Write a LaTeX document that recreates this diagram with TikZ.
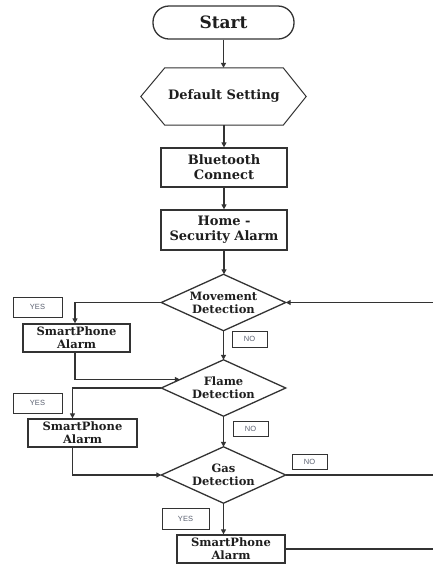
\documentclass[tikz,border=0pt]{standalone}
\usepackage{fontspec}
\setmainfont{DejaVu Serif}
\setsansfont{Liberation Sans}
\usetikzlibrary{calc,arrows.meta}

\definecolor{inkline}{HTML}{333333}
\definecolor{inktext}{HTML}{1E1E1E}
\definecolor{tagtext}{HTML}{5A6070}

\tikzset{
  base/.style={inner sep=0pt, align=center, text=inktext, font=\bfseries\fontsize{13}{15}\selectfont},
  procbox/.style={base, draw=inkline, line width=1.3pt, rectangle},
  alarmbox/.style={procbox, font=\bfseries\fontsize{11.5}{13}\selectfont, minimum height=28pt},
  decision/.style={base, font=\bfseries\fontsize{11.5}{13}\selectfont, minimum width=124pt, minimum height=56pt},
  tag/.style={draw=inkline, line width=1pt, inner sep=0pt, text=tagtext, font=\sffamily\fontsize{7.5}{8}\selectfont},
  flow/.style={draw=inkline, line width=1.3pt},
  arr/.style={flow, -{Triangle[length=5pt,width=5pt]}},
}

\begin{document}
\begin{tikzpicture}[x=1pt,y=-1pt]
\fill[white] (0,0) rectangle (433,566);
\useasboundingbox (0,0) rectangle (433,566);

% main column
\node[procbox, rounded corners=16pt, minimum width=141pt, minimum height=33pt,
      font=\bfseries\fontsize{17}{19}\selectfont] (start) at (223.5,22.5) {Start};
\node[base, minimum width=118pt, minimum height=57pt] (def) at (224,96.5) {Default Setting};
\draw[inkline, line width=1pt] ([xshift=-24pt]def.west) -- (def.north west) -- (def.north east)
  -- ([xshift=23pt]def.east) -- (def.south east) -- (def.south west) -- cycle;
\node[procbox, minimum width=126pt, minimum height=39pt] (bt) at (224,167.5) {Bluetooth\\Connect};
\node[procbox, minimum width=126pt, minimum height=40pt] (home) at (224,230) {Home -\\Security Alarm};

% decisions
\node[decision] (mv) at (223.5,302.5) {Movement\\Detection};
\node[decision] (fl) at (223.5,388) {Flame\\Detection};
\node[decision] (gas) at (223.5,475) {Gas\\Detection};
\foreach \d in {mv,fl,gas}
  \draw[inkline, line width=1.3pt] (\d.west) -- (\d.north) -- (\d.east) -- (\d.south) -- cycle;

% alarms
\node[alarmbox, minimum width=107pt] (sp1) at (76.5,338) {SmartPhone\\Alarm};
\node[alarmbox, minimum width=109pt] (sp2) at (82.5,433) {SmartPhone\\Alarm};
\node[alarmbox, minimum width=108pt] (sp3) at (231,549) {SmartPhone\\Alarm};

% answer tags
\node[tag, minimum width=49pt, minimum height=20pt] (y1) at (37.5,307) {YES};
\node[tag, minimum width=35pt, minimum height=16pt] (n1) at (249.5,339) {NO};
\node[tag, minimum width=49pt, minimum height=20pt] (y2) at (37.5,403) {YES};
\node[tag, minimum width=35pt, minimum height=15pt] (n2) at (250.5,429) {NO};
\node[tag, minimum width=35pt, minimum height=15pt] (n3) at (309.5,462) {NO};
\node[tag, minimum width=47pt, minimum height=21pt] (y3) at (185.5,518.5) {YES};

% loop-back edge
\coordinate (R) at (433,0);
\coordinate (flin) at ($(fl.west)!0.3!(fl.north)$);

% connectors
\draw[arr] (start.south) -- (start.south |- def.north);
\draw[arr] (def.south) -- (def.south |- bt.north);
\draw[arr] (bt.south) -- (bt.south |- home.north);
\draw[arr] (home.south) -- (home.south |- mv.north);
\draw[arr] (mv.west) -| ([xshift=-1.5pt]sp1.north);
\draw[arr] (mv.south) -- (fl.north);
\draw[arr] ([xshift=-1.5pt]sp1.south) |- (flin);
\draw[arr] (fl.west) -| ([xshift=-10pt]sp2.north);
\draw[arr] (fl.south) -- (gas.north);
\draw[arr] ([xshift=-10pt]sp2.south) |- (gas.west);
\draw[arr] (gas.south) -- (gas.south |- sp3.north);
\draw[flow] (gas.east) -- (gas.east -| R);
\draw[flow] (sp3.east) -- (sp3.east -| R);
\draw[arr] (R |- mv.east) -- (mv.east);
\end{tikzpicture}
\end{document}
